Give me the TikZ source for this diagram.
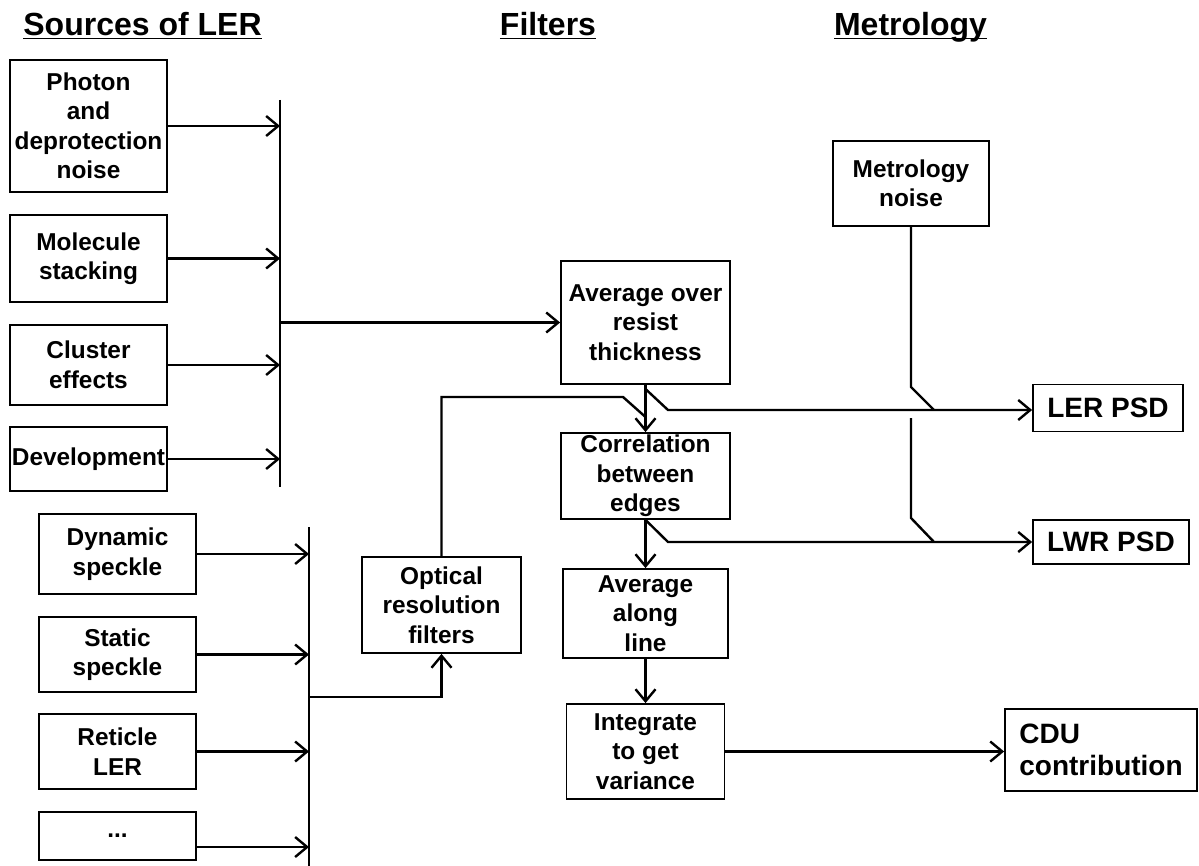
\documentclass[tikz,border=0pt]{standalone}
\usepackage{fontspec}
\setmainfont{Liberation Sans}
\usetikzlibrary{positioning, arrows.meta, calc}
\newcommand{\headline}[1]{\underline{\smash{#1}}}
\tikzset{
    block/.style={rectangle, draw=black, line width=0.9pt, inner sep=0pt, align=center, font=\fontsize{12.2}{14.75}\selectfont\bfseries},
    srcblock/.style={block, minimum width=78.5pt},
    outblock/.style={block, font=\fontsize{14}{16}\selectfont\bfseries},
    head/.style={anchor=base, font=\fontsize{16}{19}\selectfont\bfseries},
    wire/.style={draw, line width=1.2pt, black},
    bus/.style={draw, line width=1.4pt, black},
    flow/.style={wire, -{Straight Barb[length=6pt, width=10pt]}}
}

\begin{document}
\begin{tikzpicture}[x=0.5pt, y=-0.5pt]
\useasboundingbox (0,0) rectangle (1199,866);

% Column headings
\node[head] (hsrc) at (142.5,36) {\headline{Sources of LER}};
\node[head] (hfilt) at (548,36) {\headline{Filters}};
\node[head] (hmet) at (910.5,36) {\headline{Metrology}};

% Resist sources
\node[srcblock, minimum height=66pt] (photon) at (88.5,126) {Photon\\and\\deprotection\\noise};
\node[srcblock, minimum height=43.5pt] (molecule) at (88.5,258.5) {Molecule\\stacking};
\node[srcblock, minimum height=40pt] (cluster) at (88.5,365) {Cluster\\effects};
\node[srcblock, minimum height=32pt] (devel) at (88.5,459) {Development};

% Optical sources
\node[srcblock, minimum height=40pt] (dynamic) at (117.5,554) {Dynamic\\speckle};
\node[srcblock, minimum height=37.5pt] (static) at (117.5,654.5) {Static\\speckle};
\node[srcblock, minimum height=37.5pt] (reticle) at (117.5,751.5) {Reticle\\LER};
\node[srcblock, minimum height=24pt] (etc) at (117.5,836) {...};

% Filters
\node[block, minimum width=79.5pt, minimum height=48pt] (optical) at (441.5,605) {Optical\\resolution\\filters};
\node[block, minimum width=84.5pt, minimum height=61.5pt] (avgthick) at (645.5,322.5) {Average over\\resist\\thickness};
\node[block, minimum width=84.5pt, minimum height=43pt] (correl) at (645.5,476) {Correlation\\between\\edges};
\node[block, minimum width=82.5pt, minimum height=44.5pt] (avgline) at (645.5,613.5) {Average\\along\\line};
\node[block, minimum width=79pt, minimum height=47.5pt] (integ) at (645.5,751.5) {Integrate\\to get\\variance};

% Metrology and results
\node[block, minimum width=78pt, minimum height=42.5pt] (metnoise) at (911,183.5) {Metrology\\noise};
\node[outblock, minimum width=75pt, minimum height=23.5pt] (lerpsd) at (1108,408) {LER PSD};
\node[outblock, minimum width=78pt, minimum height=22pt] (lwrpsd) at (1111,542) {LWR PSD};
\node[outblock, minimum width=96pt, minimum height=41pt, align=left] (cdu) at (1101,750) {CDU\\contribution};

% Bus for resist sources
\coordinate (b1top) at (280,100);
\coordinate (b1bot) at (280,487);
\draw[bus] (b1top) -- (b1bot);
\foreach \src in {photon, molecule, cluster, devel}
    \draw[flow] (\src.east) -- (\src.east -| b1top);
\draw[flow] (b1top |- avgthick.west) -- (avgthick.west);

% Bus for optical sources
\coordinate (b2top) at (309,527);
\coordinate (b2bot) at (309,866);
\coordinate (b2out) at (309,697);
\draw[bus] (b2top) -- (b2bot);
\foreach \src in {dynamic, static, reticle}
    \draw[flow] (\src.east) -- (\src.east -| b2top);
\draw[flow] ([yshift=-5.5pt]etc.east) -- ([yshift=-5.5pt]etc.east -| b2top);
\draw[flow] (b2out) -| (optical.south);

% Optical filter joins the chain
\coordinate (optbend) at (623,397);
\coordinate (optjoin) at (645.5,417);
\draw[wire] (optical.north) |- (optbend) -- (optjoin);

% Main chain
\draw[flow] (avgthick.south) -- (correl.north);
\draw[flow] (correl.south) -- (avgline.north);
\draw[flow] (avgline.south) -- (integ.north);
\draw[flow] (integ.east) -- (integ.east -| cdu.west);

% LER and LWR branches
\coordinate (lersplit) at (645.5,389);
\coordinate (lerknee) at (668,410);
\draw[flow] (lersplit) -- (lerknee) -- (lerknee -| lerpsd.west);
\coordinate (lwrknee) at (668,542);
\draw[flow] (correl.south) -- (lwrknee) -- (lwrpsd.west);

% Metrology noise added to both
\coordinate (metbend1) at (911,387);
\coordinate (metjoin1) at (934,410);
\draw[wire] (metnoise.south) -- (metbend1) -- (metjoin1);
\coordinate (metgap) at (911,418);
\coordinate (metbend2) at (911,518);
\coordinate (metjoin2) at (934,542);
\draw[wire] (metgap) -- (metbend2) -- (metjoin2);
\end{tikzpicture}
\end{document}
